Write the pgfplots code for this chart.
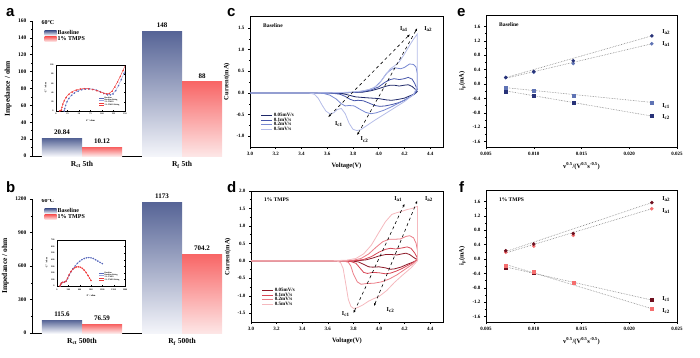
\documentclass[border=0pt]{standalone}
\usepackage{fontspec}
\setmainfont{Liberation Serif}
\newfontfamily\arialf{Liberation Sans}
\usepackage{pgfplots}
\pgfplotsset{compat=1.18}
\usetikzlibrary{arrows.meta}

\definecolor{bB1}{RGB}{86,100,150}
\definecolor{bB2}{RGB}{244,245,250}
\definecolor{bR1}{RGB}{248,102,102}
\definecolor{bR2}{RGB}{253,230,230}
\definecolor{cA}{RGB}{30,40,105}
\definecolor{cB}{RGB}{70,86,170}
\definecolor{cC}{RGB}{120,137,210}
\definecolor{cD}{RGB}{180,188,232}
\definecolor{dA}{RGB}{140,25,40}
\definecolor{dB}{RGB}{215,70,85}
\definecolor{dC}{RGB}{235,125,135}
\definecolor{dD}{RGB}{245,185,190}
\definecolor{eDark}{RGB}{40,50,120}
\definecolor{eMid}{RGB}{95,115,180}
\definecolor{fDark}{RGB}{110,15,30}
\definecolor{fLight}{RGB}{245,110,110}
\definecolor{nB}{RGB}{90,105,185}
\definecolor{nBf}{RGB}{150,165,225}
\definecolor{nR}{RGB}{240,60,60}

\pgfplotsset{
  every axis/.append style={
    scale only axis, anchor=south west,
    /pgf/number format/assume math mode=true,
    /pgf/number format/1000 sep={},
    tick label style={font=\fontsize{5}{6}\selectfont\bfseries},
    label style={font=\fontsize{6.5}{7.5}\selectfont\bfseries},
    axis line style={line width=0.6pt},
    every tick/.style={line width=0.5pt, black},
    major tick length=2pt, minor tick length=1.2pt,
  },
  barax/.style={
    width=190pt, xmin=-0.5, xmax=1.4, ymin=0,
    axis lines*=left, tick align=outside,
    xtick={0,1}, x tick style={draw=none}, major x tick style={draw=none},
    minor y tick num=1, scaled y ticks=false,
    xticklabel style={font=\fontsize{7.5}{8.5}\selectfont\bfseries},
    yticklabel style={font=\fontsize{5.5}{6.5}\selectfont\bfseries},
    ylabel={Impedance / ohm},
    ylabel style={font=\fontsize{7.5}{8.5}\selectfont\bfseries},
    legend style={draw=none, fill=none, anchor=north west,
      font=\fontsize{6}{7}\selectfont\bfseries, row sep=-1.5pt,
      nodes={inner sep=1pt}},
    legend cell align=left,
    every node near coord/.append style={font=\fontsize{7}{8}\selectfont\bfseries, text=black},
  },
  bbar/.style={ybar, bar width=0.4, bar shift=0pt, draw=none, top color=bB1, bottom color=bB2,
    nodes near coords, point meta=explicit symbolic,
    legend image code/.code={\shade[top color=bB1, bottom color=bB2] (0pt,-2.2pt) rectangle (12pt,2.2pt);}},
  rbar/.style={ybar, bar width=0.4, bar shift=0pt, draw=none, top color=bR1, bottom color=bR2,
    nodes near coords, point meta=explicit symbolic,
    legend image code/.code={\shade[top color=bR1, bottom color=bR2] (0pt,-2.2pt) rectangle (12pt,2.2pt);}},
  cvax/.style={
    width=193pt, height=131pt, xmin=3.0, xmax=4.5,
    xtick={3.0,3.2,3.4,3.6,3.8,4.0,4.2,4.4}, minor tick num=1,
    tick pos=left, tick align=outside,
    xticklabel style={/pgf/number format/.cd, fixed, fixed zerofill, precision=1},
    yticklabel style={/pgf/number format/.cd, fixed, fixed zerofill, precision=1},
    xlabel={Voltage(V)}, ylabel={Current(mA)},
    legend style={draw=none, fill=none, anchor=north west,
      font=\fontsize{5}{5.5}\selectfont\bfseries, row sep=-2pt,
      nodes={inner sep=1pt}},
    legend cell align=left,
    legend image code/.code={\draw[##1, line width=1pt] (0pt,0pt) -- (11pt,0pt);},
  },
  ipax/.style={
    width=191pt, height=132pt, xmin=0.005, xmax=0.025, ymin=-1.75, ymax=1.92,
    xtick={0.005,0.01,0.015,0.02,0.025},
    ytick={-1.6,-1.2,-0.8,-0.4,0,0.4,0.8,1.2,1.6}, minor tick num=1,
    tick pos=left, tick align=outside, scaled x ticks=false,
    xticklabel style={/pgf/number format/.cd, fixed, fixed zerofill, precision=3},
    yticklabel style={/pgf/number format/.cd, fixed, fixed zerofill, precision=1},
    xlabel={v\textsuperscript{0.5}/(V\textsuperscript{0.5}s\textsuperscript{-0.5})},
    ylabel={i\textsubscript{p}(mA)},
  },
  nyq/.style={
    tick label style={font=\fontsize{2.2}{2.6}\selectfont\bfseries},
    label style={font=\fontsize{2.4}{2.8}\selectfont\bfseries},
    major tick length=0.8pt, minor tick length=0.5pt, tick align=inside,
    axis line style={line width=0.35pt},
    every tick/.style={line width=0.3pt, black},
    xlabel={Z\textquotesingle{} / ohm}, ylabel={-Z\textquotesingle\textquotesingle{} / ohm},
    xlabel style={yshift=2.5pt}, ylabel style={yshift=-3pt},
    xticklabel style={yshift=1pt}, yticklabel style={xshift=1pt},
    legend style={draw=none, fill=none, at={(0.97,0.04)}, anchor=south east,
      font=\fontsize{2}{2.3}\selectfont\bfseries, row sep=-1.2pt,
      nodes={inner sep=0.3pt}},
    legend cell align=left,
    legend image code/.code={\draw[##1] (0pt,0pt) -- (5pt,0pt);},
  },
}

\begin{document}
\begin{tikzpicture}
\useasboundingbox (0pt,0pt) rectangle (700pt,357pt);

% ---------- panel letters
\node[anchor=base west, font=\arialf\bfseries\fontsize{15}{15}\selectfont, inner sep=0pt] at (6pt,340pt) {a};
\node[anchor=base west, font=\arialf\bfseries\fontsize{15}{15}\selectfont, inner sep=0pt] at (6pt,165pt) {b};
\node[anchor=base west, font=\arialf\bfseries\fontsize{15}{15}\selectfont, inner sep=0pt] at (227pt,340pt) {c};
\node[anchor=base west, font=\arialf\bfseries\fontsize{15}{15}\selectfont, inner sep=0pt] at (227pt,165pt) {d};
\node[anchor=base west, font=\arialf\bfseries\fontsize{15}{15}\selectfont, inner sep=0pt] at (457pt,340pt) {e};
\node[anchor=base west, font=\arialf\bfseries\fontsize{15}{15}\selectfont, inner sep=0pt] at (459pt,165pt) {f};

% ---------- panel a
\begin{axis}[barax, at={(32pt,201pt)}, height=135pt, ymax=160, ytick distance=20,
  xticklabels={R\textsubscript{ct} 5th, R\textsubscript{f} 5th},
  legend style={at={(0.05,0.955)}}]
\addplot[bbar] coordinates {(-0.2,20.84)[20.84]};
\addlegendentry{Baseline}
\addplot[rbar] coordinates {(0.2,10.12)[10.12]};
\addlegendentry{1\% TMPS}
\addplot[bbar, forget plot] coordinates {(0.8,148)[148]};
\addplot[rbar, forget plot] coordinates {(1.2,88)[88]};
\node[font=\fontsize{6}{7}\selectfont\bfseries] at (rel axis cs:0.084,0.985) {60°C};
\end{axis}

% inset a
\begin{axis}[nyq, at={(56pt,246pt)}, width=69pt, height=46pt,
  xmin=0, xmax=150, ymin=0, ymax=100, xtick={0,25,50,75,100,125,150}, ytick={0,20,40,60,80,100}]
\addplot[only marks, mark=*, mark size=0.55pt, nB] coordinates {
(18,0) (19,5) (21,12) (24,20) (28,27) (34,34) (40,39) (48,43) (56,46) (64,47.5) (72,48) (80,47) (88,45) (96,42) (104,38) (112,35) (118,35) (124,37) (130,44) (136,55) (142,68) (148,82)};
\addlegendentry{Baseline}
\addplot[nBf, line width=0.4pt] coordinates {
(17,0) (19,6) (21,13) (24,21) (28,28) (34,35) (40,40) (48,44) (56,47) (64,48) (72,48.5) (80,47.5) (88,45.5) (96,42.5) (104,38.5) (112,35.5) (118,35.5) (124,38) (130,45) (136,56) (142,69) (150,87)};
\addlegendentry{Baseline fitting}
\addplot[only marks, mark=*, mark size=0.55pt, nR] coordinates {
(8,0) (10,1) (12,2) (13,8) (15,15) (18,22) (22,29) (28,36) (35,41) (44,45) (53,47.5) (62,48.5) (71,48) (80,46.5) (89,44) (97,41) (104,38.5) (110,37) (116,38) (122,43) (128,52) (134,63) (140,75) (146,88)};
\addlegendentry{1\% TMPS}
\addplot[nR, line width=0.4pt] coordinates {
(7,0) (10,1.5) (12,3) (13,9) (15,16) (18,23) (22,30) (28,37) (35,42) (44,46) (53,48) (62,49) (71,48.5) (80,47) (89,44.5) (97,41.5) (104,39) (110,37.5) (116,38.5) (122,43.5) (128,53) (134,64) (140,76) (146,89) (150,98)};
\addlegendentry{1\% TMPS fitting}
\end{axis}

% ---------- panel b
\begin{axis}[barax, at={(32pt,24pt)}, height=134pt, ymax=1200, ytick distance=300,
  xticklabels={R\textsubscript{ct} 500th, R\textsubscript{f} 500th},
  legend style={at={(0.05,0.955)}}]
\addplot[bbar] coordinates {(-0.2,115.6)[115.6]};
\addlegendentry{Baseline}
\addplot[rbar] coordinates {(0.2,76.59)[76.59]};
\addlegendentry{1\% TMPS}
\addplot[bbar, forget plot] coordinates {(0.8,1173)[1173]};
\addplot[rbar, forget plot] coordinates {(1.2,704.2)[704.2]};
\node[font=\fontsize{6}{7}\selectfont\bfseries] at (rel axis cs:0.084,0.985) {60°C};
\end{axis}

% inset b
\begin{axis}[nyq, at={(57pt,71pt)}, width=68pt, height=46pt,
  xmin=0, xmax=1800, ymin=0, ymax=700, xtick={0,300,600,900,1200,1500,1800}, ytick={0,100,200,300,400,500,600,700}]
\addplot[only marks, mark=*, mark size=0.55pt, nB] coordinates {
(90,0) (100,25) (120,45) (150,55) (200,60) (240,70) (280,110) (320,160) (370,215) (420,260) (480,305) (540,345) (600,375) (660,400) (720,418) (780,428) (840,432) (900,428) (960,418) (1020,400) (1080,380) (1140,358) (1200,340)};
\addlegendentry{Baseline}
\addplot[nBf, line width=0.4pt] coordinates {
(88,0) (100,28) (120,47) (150,56) (200,61) (240,72) (280,112) (320,162) (370,217) (420,262) (480,307) (540,347) (600,377) (660,402) (720,420) (780,430) (840,433) (900,429) (960,419) (1020,401) (1080,381) (1140,359) (1200,341)};
\addlegendentry{Baseline fitting}
\addplot[only marks, mark=*, mark size=0.55pt, nR] coordinates {
(80,0) (95,25) (115,45) (150,55) (200,62) (240,75) (280,120) (320,170) (370,220) (420,255) (470,278) (520,290) (570,292) (620,285) (670,268) (720,240) (770,205) (820,160) (860,120) (900,85)};
\addlegendentry{1\% TMPS}
\addplot[nR, line width=0.4pt] coordinates {
(78,0) (95,27) (115,46) (150,56) (200,63) (240,77) (280,122) (320,172) (370,221) (420,256) (470,279) (520,291) (570,293) (620,286) (670,269) (720,241) (770,206) (820,161) (860,121) (900,86)};
\addlegendentry{1\% TMPS fitting}
\end{axis}

% ---------- panel c
\begin{axis}[cvax, at={(250pt,210pt)}, ymin=-1.25, ymax=1.78, ytick={-1,-0.5,0,0.5,1,1.5},
  legend style={at={(0.04,0.285)}}]
\addplot[cA, line width=0.8pt] coordinates {
(3.0,0) (3.6,0) (3.8,0.01) (3.88,0.02) (3.94,0.05) (4.0,0.1) (4.05,0.15) (4.09,0.18) (4.12,0.18) (4.16,0.16) (4.2,0.18) (4.23,0.19) (4.26,0.15) (4.29,0.07) (4.3,0.03) (4.28,-0.02) (4.24,-0.07) (4.2,-0.12) (4.15,-0.15) (4.1,-0.17) (4.06,-0.16) (4.0,-0.13) (3.95,-0.12) (3.9,-0.11) (3.86,-0.1) (3.82,-0.09) (3.78,-0.06) (3.74,-0.03) (3.7,-0.01) (3.6,0) (3.0,0)};
\addlegendentry{0.05mV/s}
\addplot[cB, line width=0.8pt] coordinates {
(3.0,0) (3.6,0) (3.8,0.01) (3.88,0.03) (3.94,0.07) (4.0,0.14) (4.05,0.25) (4.09,0.31) (4.12,0.33) (4.16,0.31) (4.2,0.33) (4.23,0.36) (4.26,0.32) (4.28,0.22) (4.3,0.08) (4.28,-0.02) (4.24,-0.1) (4.2,-0.17) (4.15,-0.23) (4.1,-0.27) (4.05,-0.3) (4.01,-0.31) (3.97,-0.29) (3.93,-0.24) (3.88,-0.18) (3.84,-0.17) (3.81,-0.18) (3.78,-0.15) (3.74,-0.08) (3.7,-0.03) (3.65,-0.01) (3.6,0) (3.0,0)};
\addlegendentry{0.1mV/s}
\addplot[cC, line width=0.8pt] coordinates {
(3.0,0) (3.55,0) (3.75,0.01) (3.85,0.03) (3.92,0.07) (3.97,0.13) (4.02,0.28) (4.06,0.45) (4.1,0.55) (4.13,0.58) (4.17,0.56) (4.2,0.59) (4.24,0.67) (4.27,0.66) (4.29,0.6) (4.3,0.45) (4.3,0.1) (4.27,-0.04) (4.22,-0.13) (4.16,-0.23) (4.1,-0.32) (4.04,-0.4) (3.98,-0.46) (3.94,-0.48) (3.9,-0.45) (3.85,-0.37) (3.81,-0.3) (3.77,-0.29) (3.74,-0.3) (3.71,-0.25) (3.67,-0.14) (3.62,-0.05) (3.57,-0.01) (3.5,0) (3.0,0)};
\addlegendentry{0.2mV/s}
\addplot[cD, line width=0.8pt] coordinates {
(3.0,0) (3.5,0) (3.7,0.01) (3.8,0.02) (3.88,0.05) (3.95,0.1) (4.0,0.2) (4.05,0.4) (4.09,0.56) (4.12,0.62) (4.16,0.72) (4.2,0.9) (4.24,1.1) (4.27,1.24) (4.3,1.36) (4.3,0.9) (4.3,0.15) (4.27,-0.04) (4.2,-0.2) (4.12,-0.35) (4.04,-0.5) (3.97,-0.63) (3.91,-0.75) (3.86,-0.85) (3.83,-0.87) (3.8,-0.84) (3.77,-0.7) (3.74,-0.48) (3.71,-0.36) (3.68,-0.38) (3.65,-0.46) (3.62,-0.48) (3.59,-0.42) (3.56,-0.28) (3.53,-0.12) (3.5,-0.03) (3.46,0) (3.0,0)};
\addlegendentry{0.5mV/s}
\addplot[black, dashed, line width=0.6pt, {Latex[length=3pt,width=2.2pt]}-{Latex[length=3pt,width=2.2pt]}, forget plot] coordinates {(3.607,-0.56) (4.244,1.36)};
\addplot[black, dashed, line width=0.6pt, {Latex[length=3pt,width=2.2pt]}-{Latex[length=3pt,width=2.2pt]}, forget plot] coordinates {(3.832,-0.98) (4.30,1.50)};
\node[font=\fontsize{6}{7}\selectfont\bfseries] at (axis cs:4.197,1.47) {I\textsubscript{a1}};
\node[font=\fontsize{6}{7}\selectfont\bfseries] at (axis cs:4.385,1.47) {I\textsubscript{a2}};
\node[font=\fontsize{6}{7}\selectfont\bfseries] at (axis cs:3.69,-0.72) {I\textsubscript{c1}};
\node[font=\fontsize{6}{7}\selectfont\bfseries] at (axis cs:3.89,-1.08) {I\textsubscript{c2}};
\node[anchor=west, font=\fontsize{5.5}{6.5}\selectfont\bfseries] at (rel axis cs:0.05,0.93) {Baseline};
\end{axis}

% ---------- panel d
\begin{axis}[cvax, at={(251pt,35pt)}, width=192pt, ymin=-1.75, ymax=2.0, ytick={-1.5,-1,-0.5,0,0.5,1,1.5,2},
  legend style={at={(0.04,0.285)}}]
\addplot[dA, line width=0.8pt] coordinates {
(3.0,0) (3.7,0) (3.85,0.01) (3.9,0.03) (3.95,0.08) (4.0,0.14) (4.05,0.18) (4.1,0.18) (4.14,0.17) (4.18,0.2) (4.21,0.22) (4.24,0.18) (4.27,0.1) (4.3,0.03) (4.27,-0.03) (4.22,-0.1) (4.17,-0.18) (4.12,-0.23) (4.09,-0.24) (4.05,-0.2) (4.0,-0.17) (3.95,-0.18) (3.92,-0.17) (3.88,-0.1) (3.84,-0.03) (3.8,-0.01) (3.7,0) (3.0,0)};
\addlegendentry{0.05mV/s}
\addplot[dB, line width=0.8pt] coordinates {
(3.0,0) (3.7,0) (3.82,0.01) (3.88,0.04) (3.94,0.12) (4.0,0.25) (4.05,0.33) (4.09,0.36) (4.13,0.34) (4.18,0.37) (4.22,0.4) (4.25,0.36) (4.28,0.22) (4.3,0.08) (4.28,-0.02) (4.23,-0.12) (4.18,-0.22) (4.13,-0.3) (4.09,-0.35) (4.05,-0.37) (4.0,-0.34) (3.95,-0.33) (3.91,-0.36) (3.88,-0.33) (3.85,-0.2) (3.82,-0.07) (3.78,-0.02) (3.72,0) (3.0,0)};
\addlegendentry{0.1mV/s}
\addplot[dC, line width=0.8pt] coordinates {
(3.0,0) (3.65,0) (3.8,0.02) (3.86,0.07) (3.92,0.2) (3.98,0.4) (4.03,0.55) (4.08,0.62) (4.13,0.62) (4.17,0.63) (4.21,0.7) (4.24,0.72) (4.27,0.66) (4.29,0.5) (4.3,0.3) (4.3,0.05) (4.26,-0.1) (4.2,-0.25) (4.14,-0.4) (4.08,-0.52) (4.02,-0.6) (3.96,-0.64) (3.9,-0.65) (3.86,-0.67) (3.83,-0.6) (3.8,-0.38) (3.78,-0.15) (3.76,-0.04) (3.72,0) (3.0,0)};
\addlegendentry{0.2mV/s}
\addplot[dD, line width=0.8pt] coordinates {
(3.0,0) (3.6,0) (3.75,0.02) (3.82,0.07) (3.88,0.2) (3.94,0.45) (4.0,0.82) (4.05,1.12) (4.1,1.33) (4.14,1.38) (4.18,1.42) (4.22,1.47) (4.26,1.5) (4.3,1.56) (4.3,0.8) (4.3,0.0) (4.25,-0.2) (4.18,-0.42) (4.12,-0.62) (4.06,-0.85) (4.0,-1.02) (3.96,-1.08) (3.92,-1.15) (3.87,-1.27) (3.83,-1.34) (3.8,-1.36) (3.78,-1.3) (3.76,-1.1) (3.74,-0.65) (3.72,-0.22) (3.7,-0.05) (3.67,0) (3.0,0)};
\addlegendentry{0.5mV/s}
\addplot[black, dashed, line width=0.6pt, {Latex[length=3pt,width=2.2pt]}-{Latex[length=3pt,width=2.2pt]}, forget plot] coordinates {(3.80,-1.50) (4.20,1.64)};
\addplot[black, dashed, line width=0.6pt, {Latex[length=3pt,width=2.2pt]}-{Latex[length=3pt,width=2.2pt]}, forget plot] coordinates {(3.96,-1.30) (4.30,1.73)};
\node[font=\fontsize{6}{7}\selectfont\bfseries] at (axis cs:4.15,1.76) {I\textsubscript{a1}};
\node[font=\fontsize{6}{7}\selectfont\bfseries] at (axis cs:4.39,1.76) {I\textsubscript{a2}};
\node[font=\fontsize{6}{7}\selectfont\bfseries] at (axis cs:3.74,-1.53) {I\textsubscript{c1}};
\node[font=\fontsize{6}{7}\selectfont\bfseries] at (axis cs:4.09,-1.40) {I\textsubscript{c2}};
\node[anchor=west, font=\fontsize{5.5}{6.5}\selectfont\bfseries] at (rel axis cs:0.05,0.93) {1\% TMPS};
\end{axis}

% ---------- panel e
\begin{axis}[ipax, at={(486pt,210pt)}]
\addplot[gray, densely dotted, line width=0.6pt] coordinates {(0.00707,0.18) (0.02236,1.34)};
\addplot[gray, densely dotted, line width=0.6pt] coordinates {(0.00707,0.16) (0.02236,1.12)};
\addplot[gray, densely dotted, line width=0.6pt] coordinates {(0.00707,-0.10) (0.02236,-0.51)};
\addplot[gray, densely dotted, line width=0.6pt] coordinates {(0.00707,-0.19) (0.02236,-0.89)};
\addplot[only marks, mark=*, mark size=1.6pt, eMid] coordinates {(0.00707,0.18) (0.01,0.33) (0.01414,0.57) (0.02236,1.12)};
\addplot[only marks, mark=*, mark size=1.6pt, eDark] coordinates {(0.00707,0.18) (0.01,0.35) (0.01414,0.65) (0.02236,1.34)};
\addplot[only marks, mark=square*, mark size=1.5pt, eMid] coordinates {(0.00707,-0.10) (0.01,-0.19) (0.01414,-0.32) (0.02236,-0.51)};
\addplot[only marks, mark=square*, mark size=1.5pt, eDark] coordinates {(0.00707,-0.20) (0.01,-0.32) (0.01414,-0.51) (0.02236,-0.89)};
\node[anchor=west, font=\fontsize{6}{7}\selectfont\bfseries] at (axis cs:0.0231,1.44) {I\textsubscript{a2}};
\node[anchor=west, font=\fontsize{6}{7}\selectfont\bfseries] at (axis cs:0.0231,1.11) {I\textsubscript{a1}};
\node[anchor=west, font=\fontsize{6}{7}\selectfont\bfseries] at (axis cs:0.0231,-0.61) {I\textsubscript{c1}};
\node[anchor=west, font=\fontsize{6}{7}\selectfont\bfseries] at (axis cs:0.0231,-0.92) {I\textsubscript{c2}};
\node[anchor=west, font=\fontsize{5.5}{6.5}\selectfont\bfseries] at (rel axis cs:0.05,0.93) {Baseline};
\end{axis}

% ---------- panel f
\begin{axis}[ipax, at={(486pt,35pt)}]
\addplot[gray, densely dotted, line width=0.6pt] coordinates {(0.00707,0.21) (0.02236,1.57)};
\addplot[gray, densely dotted, line width=0.6pt] coordinates {(0.00707,0.17) (0.02236,1.40)};
\addplot[gray, densely dotted, line width=0.6pt] coordinates {(0.00707,-0.22) (0.02236,-1.14)};
\addplot[gray, densely dotted, line width=0.6pt] coordinates {(0.00707,-0.15) (0.02236,-1.38)};
\addplot[only marks, mark=*, mark size=1.6pt, fLight] coordinates {(0.00707,0.19) (0.01,0.36) (0.01414,0.66) (0.02236,1.40)};
\addplot[only marks, mark=*, mark size=1.6pt, fDark] coordinates {(0.00707,0.23) (0.01,0.42) (0.01414,0.71) (0.02236,1.57)};
\addplot[only marks, mark=square*, mark size=1.5pt, fDark] coordinates {(0.00707,-0.23) (0.01,-0.39) (0.01414,-0.67) (0.02236,-1.14)};
\addplot[only marks, mark=square*, mark size=1.5pt, fLight] coordinates {(0.00707,-0.18) (0.01,-0.36) (0.01414,-0.67) (0.02236,-1.38)};
\node[anchor=west, font=\fontsize{6}{7}\selectfont\bfseries] at (axis cs:0.0231,1.67) {I\textsubscript{a2}};
\node[anchor=west, font=\fontsize{6}{7}\selectfont\bfseries] at (axis cs:0.0231,1.33) {I\textsubscript{a1}};
\node[anchor=west, font=\fontsize{6}{7}\selectfont\bfseries] at (axis cs:0.0231,-1.11) {I\textsubscript{c1}};
\node[anchor=west, font=\fontsize{6}{7}\selectfont\bfseries] at (axis cs:0.0231,-1.44) {I\textsubscript{c2}};
\node[anchor=west, font=\fontsize{5.5}{6.5}\selectfont\bfseries] at (rel axis cs:0.05,0.93) {1\% TMPS};
\end{axis}
\end{tikzpicture}
\end{document}
